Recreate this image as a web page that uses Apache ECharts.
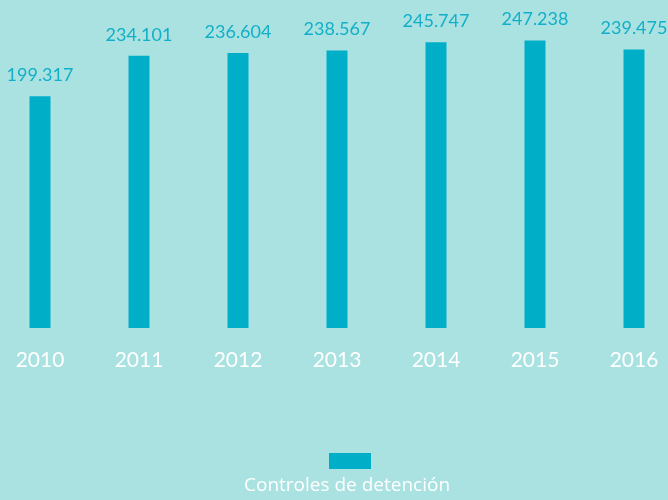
<!DOCTYPE html>
<html>
<head>
<meta charset="utf-8">
<script src="https://cdn.jsdelivr.net/npm/echarts@6/dist/echarts.min.js"></script>
<style>
html,body{margin:0;padding:0;background:#A9E2E1;}
#chart{width:668px;height:500px;}
</style>
</head>
<body>
<div id="chart"></div>
<script>
var categories = ['2010', '2011', '2012', '2013', '2014', '2015', '2016'];
var seriesName = 'Controles de detención';
var values = [199.317, 234.101, 236.604, 238.567, 245.747, 247.238, 239.475];

var chart = echarts.init(document.getElementById('chart'));
chart.setOption({
  backgroundColor: '#A9E2E1',
  animation: false,
  grid: { left: 40, right: 34, top: 28, bottom: 172, containLabel: false },
  xAxis: {
    type: 'category',
    data: categories,
    boundaryGap: false,
    axisLine: { show: false },
    axisTick: { show: false },
    axisLabel: { color: '#ffffff', fontSize: 21, fontFamily: 'Lato', margin: 22 }
  },
  yAxis: {
    type: 'value',
    min: 0,
    max: 258,
    show: false,
    splitLine: { show: false }
  },
  legend: {
    data: [seriesName],
    left: 329,
    top: 453,
    itemWidth: 42,
    itemHeight: 16,
    itemGap: 0,
    padding: 0,
    icon: 'rect',
    formatter: function () { return ''; },
    textStyle: { padding: 0 }
  },
  title: {
    text: seriesName,
    left: 244,
    top: 476,
    padding: 0,
    textStyle: { color: '#ffffff', fontSize: 19, fontWeight: 'normal', fontFamily: 'Open Sans' }
  },
  series: [{
    name: seriesName,
    type: 'bar',
    data: values,
    barWidth: 21,
    itemStyle: { color: '#00AEC7' },
    label: {
      show: true,
      position: 'top',
      distance: 12,
      color: '#13AFC8',
      fontSize: 18,
      fontFamily: 'Lato',
      formatter: function (p) { return p.value.toFixed(3); }
    }
  }]
});
</script>
</body>
</html>
